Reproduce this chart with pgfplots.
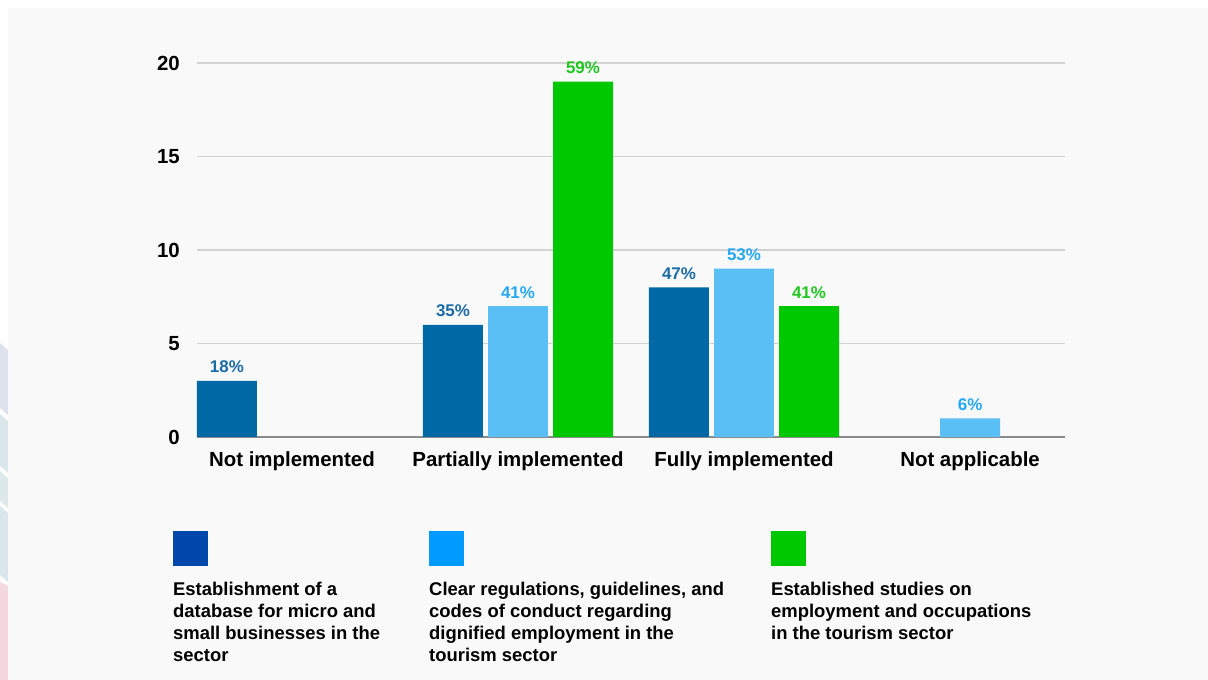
\documentclass[border=0pt]{standalone}
\usepackage{fontspec}
\setmainfont{Liberation Sans}
\usepackage{pgfplots}
\pgfplotsset{compat=1.18}

\definecolor{bgpanel}{HTML}{F9F9F9}
\definecolor{bardark}{HTML}{0068A5}
\definecolor{barlight}{HTML}{5ABFF5}
\definecolor{bargreen}{HTML}{00C800}
\definecolor{labdark}{HTML}{1B6BA6}
\definecolor{lablight}{HTML}{22A8F5}
\definecolor{labgreen}{HTML}{1EC81E}
\definecolor{legdark}{HTML}{0047AB}
\definecolor{leglight}{HTML}{009BFF}
\definecolor{gridgray}{HTML}{D2D2D2}
\definecolor{axisgray}{HTML}{8A8A8A}
\definecolor{stripeA}{HTML}{DEE2EE}
\definecolor{stripeB}{HTML}{D9E6EB}
\definecolor{stripeC}{HTML}{DCE8EA}
\definecolor{stripeD}{HTML}{F3D9DD}

\begin{document}
\begin{tikzpicture}
  % page background
  \fill[white] (0,0) rectangle (1208bp,680bp);
  % faint stripes in the left margin
  \fill[stripeA] (0,337bp) -- (8bp,330bp) -- (8bp,265bp) -- (0,272bp) -- cycle;
  \fill[stripeB] (0,266bp) -- (8bp,259bp) -- (8bp,207bp) -- (0,214bp) -- cycle;
  \fill[stripeC] (0,209bp) -- (8bp,202bp) -- (8bp,172bp) -- (0,179bp) -- cycle;
  \fill[stripeB] (0,174bp) -- (8bp,167bp) -- (8bp,98bp) -- (0,105bp) -- cycle;
  \fill[stripeD] (0,98bp) -- (8bp,94bp) -- (8bp,0) -- (0,0) -- cycle;
  \fill[bgpanel] (8bp,0) rectangle (1208bp,672bp);

  \begin{axis}[
      at={(197bp,243bp)}, anchor=south west,
      scale only axis, width=868bp, height=374bp,
      xmin=-0.42, xmax=3.42, ymin=0, ymax=20,
      clip=false,
      axis lines*=left,
      y axis line style={draw=none},
      x axis line style={draw=axisgray, line width=1.2bp},
      major tick length=0pt,
      ymajorgrids, grid style={draw=gridgray, line width=1.2bp},
      ytick={0,5,10,15,20}, yticklabels={0,5,10,15,20},
      xtick={0,1,2,3},
      xticklabels={Not implemented, Partially implemented, Fully implemented, Not applicable},
      yticklabel style={font=\bfseries\fontsize{20.5}{24}\selectfont, inner sep=0pt, xshift=-17bp},
      xticklabel style={font=\bfseries\fontsize{20.5}{24}\selectfont, inner sep=0pt, yshift=-15bp},
      every axis plot/.append style={ybar, bar width=0.265, draw=none},
      point meta=explicit symbolic,
      nodes near coords,
      every node near coord/.append style={font=\bfseries\fontsize{17}{20}\selectfont, anchor=base, inner sep=0pt, yshift=8bp},
    ]
    % 0.288 axis units = 65bp
    \addplot[fill=bardark, bar shift=-0.288, every node near coord/.append style={text=labdark, xshift=-65bp}]
      coordinates {(0,3) [18\%] (1,6) [35\%] (2,8) [47\%]};
    \addplot[fill=barlight, bar shift=0, every node near coord/.append style={text=lablight}]
      coordinates {(1,7) [41\%] (2,9) [53\%] (3,1) [6\%]};
    \addplot[fill=bargreen, bar shift=0.288, every node near coord/.append style={text=labgreen, xshift=65bp}]
      coordinates {(1,19) [59\%] (2,7) [41\%]};
  \end{axis}

  % legend
  \fill[legdark]  (173bp,114bp) rectangle (208bp,149bp);
  \fill[leglight] (429bp,114bp) rectangle (464bp,149bp);
  \fill[bargreen] (771bp,114bp) rectangle (806bp,149bp);
  \begin{scope}[every node/.style={anchor=north west, inner sep=0pt, align=left,
      font=\bfseries\fontsize{18.5}{22}\selectfont}]
    \node at (173bp,98bp) {Establishment of a\\database for micro and\\small businesses in the\\sector};
    \node at (429bp,98bp) {Clear regulations, guidelines, and\\codes of conduct regarding\\dignified employment in the\\tourism sector};
    \node at (771bp,98bp) {Established studies on\\employment and occupations\\in the tourism sector};
  \end{scope}
\end{tikzpicture}
\end{document}
